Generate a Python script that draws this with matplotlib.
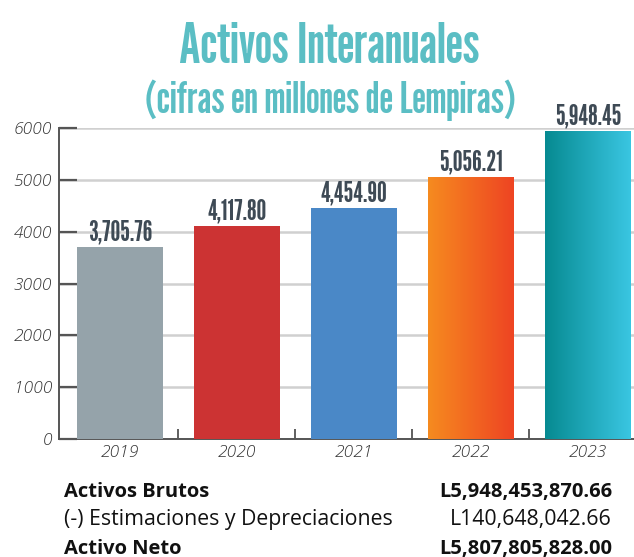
import matplotlib
matplotlib.use("Agg")
import matplotlib.pyplot as plt
from matplotlib.colors import LinearSegmentedColormap
import numpy as np

YEARS = ["2019", "2020", "2021", "2022", "2023"]
VALUES = [3705.76, 4117.80, 4454.90, 5056.21, 5948.45]
VALUE_LABELS = ["3,705.76", "4,117.80", "4,454.90", "5,056.21", "5,948.45"]
# solid colour or (left, right) gradient
BAR_COLORS = ["#95A3AA", "#CC3333", "#4A88C7",
              ("#F68B1F", "#EE4423"), ("#068A91", "#3AC6E2")]

SUMMARY_LABELS = ["Activos Brutos", "(-) Estimaciones y Depreciaciones", "Activo Neto"]
SUMMARY_VALUES = ["L5,948,453,870.66", "L140,648,042.66", "L5,807,805,828.00"]
SUMMARY_BOLD = [True, False, True]

TITLE = "Activos Interanuales"
SUBTITLE = "(cifras en millones de Lempiras)"

TEAL = "#5BBEC4"
LABEL_DARK = "#3E4A55"
CONDENSED = ["League Gothic", "DejaVu Sans"]
BODY = ["Open Sans", "DejaVu Sans"]


def main():
    fig = plt.figure(figsize=(6.34, 5.57), dpi=100)
    ax = fig.add_axes([59 / 634, 118 / 557, 585 / 634, 311 / 557])

    x = np.arange(len(YEARS))
    bars = ax.bar(x, VALUES, width=0.735, zorder=3)
    for bar, col in zip(bars, BAR_COLORS):
        if isinstance(col, tuple):
            bar.set_facecolor("none")
            cmap = LinearSegmentedColormap.from_list("g", list(col))
            x0, y0 = bar.get_x(), bar.get_y()
            w, h = bar.get_width(), bar.get_height()
            grad = np.linspace(0, 1, 256).reshape(1, -1)
            im = ax.imshow(grad, cmap=cmap, aspect="auto",
                           extent=[x0, x0 + w, y0, y0 + h], zorder=3)
            im.set_clip_path(bar)
        else:
            bar.set_facecolor(col)

    for xi, v, lab in zip(x, VALUES, VALUE_LABELS):
        ax.text(xi, v + 25, lab, ha="center", va="bottom", fontsize=20,
                family=CONDENSED, color=LABEL_DARK, zorder=4)

    ax.set_xlim(-0.52, len(YEARS) - 0.52)
    ax.set_ylim(0, 6000)
    ax.set_yticks(np.arange(0, 6001, 1000))
    ax.set_xticks(x)
    ax.set_xticklabels(YEARS)
    ax.set_xticks(x[:-1] + 0.5, minor=True)
    ax.tick_params(axis="x", which="major", length=0, pad=4,
                   labelsize=12.5, labelcolor="#333333")
    ax.tick_params(axis="x", which="minor", direction="in", length=7,
                   width=1.2, color="#444444")
    ax.tick_params(axis="y", direction="in", length=13, width=1.6,
                   color="#555555", labelsize=12.5, labelcolor="#333333", pad=5)
    for lab in ax.get_xticklabels() + ax.get_yticklabels():
        lab.set_fontstyle("italic")
        lab.set_fontweight("light")
        lab.set_family(BODY)

    ax.grid(axis="y", color="#D0D0D0", linewidth=1.8, zorder=0)
    for side in ["top", "right"]:
        ax.spines[side].set_visible(False)
    for side in ["left", "bottom"]:
        ax.spines[side].set_color("#555555")
        ax.spines[side].set_linewidth(1.4)
    ax.set_axisbelow(True)

    fig.text(329 / 634, 1 - 63 / 557, TITLE, ha="center", va="baseline",
             fontsize=40, family=CONDENSED, color=TEAL)
    fig.text(330 / 634, 1 - 113 / 557, SUBTITLE, ha="center", va="baseline",
             fontsize=31.5, family=CONDENSED, color=TEAL)

    for i, (lab, val, bold) in enumerate(zip(SUMMARY_LABELS, SUMMARY_VALUES,
                                              SUMMARY_BOLD)):
        yy = 1 - (497 + i * 28.5) / 557
        w = "bold" if bold else "normal"
        size = 14.5 if bold else 15.3
        fig.text(64 / 634, yy, lab, ha="left", va="baseline", fontsize=size,
                 fontweight=w, family=BODY, color="#111111")
        fig.text(612 / 634, yy, val, ha="right", va="baseline", fontsize=size,
                 fontweight=w, family=BODY, color="#111111")

    fig.savefig("out.png", dpi=100)


if __name__ == "__main__":
    main()
